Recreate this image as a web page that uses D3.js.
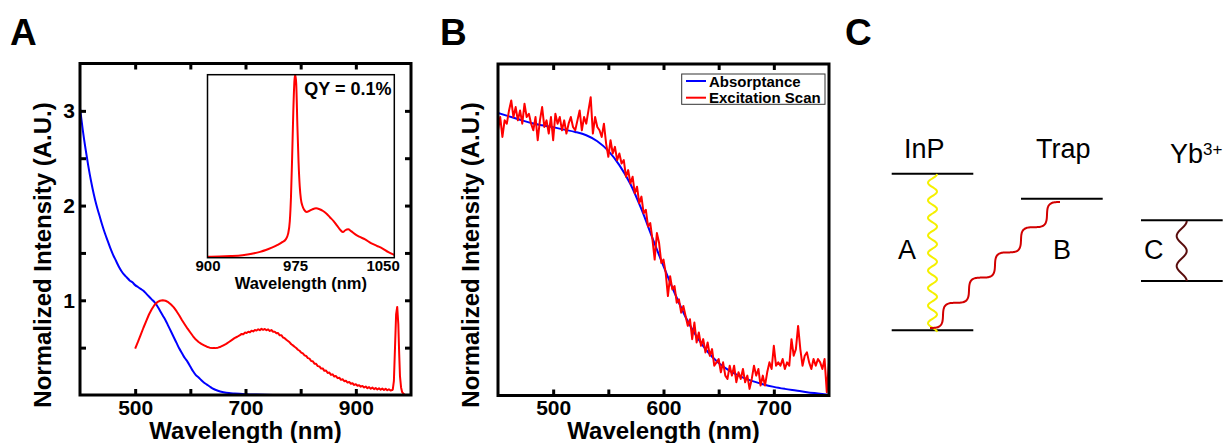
<!DOCTYPE html>
<html><head><meta charset="utf-8">
<script src="https://cdn.jsdelivr.net/npm/d3@7"></script>
<style>
html,body{margin:0;padding:0;background:#fff;}
svg text{font-family:"Liberation Sans",Arial,Helvetica,sans-serif;}
</style></head><body>
<svg id="fig" width="1226" height="443"></svg>
<script>
// ---------------- DATA ----------------
// Panel A: absorbance (blue)
const absA = [[400,3.03],[405,2.80],[410,2.60],[415,2.42],[420,2.26],[425,2.12],[430,2.00],[435,1.90],[440,1.80],[445,1.71],[450,1.63],[455,1.55],[460,1.48],[465,1.42],[470,1.36],[475,1.31],[480,1.27],[485,1.24],[490,1.21],[495,1.19],[500,1.16],[505,1.14],[510,1.12],[515,1.10],[520,1.07],[525,1.04],[530,1.01],[535,0.98],[540,0.94],[545,0.89],[550,0.84],[555,0.79],[560,0.73],[565,0.67],[570,0.61],[575,0.55],[580,0.49],[585,0.44],[590,0.39],[595,0.35],[600,0.30],[605,0.25],[610,0.21],[615,0.185],[620,0.155],[625,0.13],[630,0.11],[635,0.09],[640,0.07],[650,0.045],[660,0.03],[670,0.02],[680,0.015],[700,0.008],[720,0.004],[750,0.001],[800,0]];
// Panel A: photoluminescence (red)
const plA = [[500,.49],[505,.56],[510,.635],[515,.71],[520,.78],[525,.85],[530,.905],[535,.95],[540,.98],[545,.995],[550,1.0],[555,.995],[560,.98],[565,.955],[570,.925],[575,.885],[580,.84],[585,.79],[590,.745],[595,.70],[600,.66],[605,.62],[610,.585],[615,.56],[620,.54],[625,.525],[630,.51],[635,.50],[640,.495],[645,.495],[650,.50],[655,.51],[660,.525],[665,.54],[670,.56],[675,.58],[680,.60],[685,.615],
[690,.632],[693,.645],[696,.641],[699,.659],[702,.655],[705,.668],[708,.662],[711,.679],[714,.671],[717,.686],[720,.680],[723,.694],[726,.685],[729,.699],[732,.688],[735,.697],[738,.684],[741,.693],[744,.676],[747,.686],[750,.668],[753,.669],[756,.652],[759,.655],[762,.630],[765,.632],[768,.607],[771,.600],[774,.584],[777,.570],[780,.556],[783,.536],[786,.524],[789,.509],[792,.496],[795,.478],[798,.467],[801,.448],[804,.439],[807,.418],[810,.412],[813,.389],[816,.384],[819,.359],[822,.357],[825,.331],[828,.329],[831,.305],[834,.302],[837,.279],[840,.281],[843,.255],[846,.258],[849,.232],[852,.237],[855,.212],[858,.218],[861,.195],[864,.200],[867,.178],[870,.183],[873,.160],[876,.166],[879,.146],[882,.150],[885,.131],[888,.138],[891,.119],[894,.124],[897,.106],[900,.114],[903,.098],[906,.104],[909,.088],[912,.096],[915,.079],[918,.090],[921,.072],[924,.083],[927,.066],[930,.078],[933,.062],[936,.074],[939,.058],[942,.071],[945,.055],[948,.068],[951,.052],[954,.066],[957,.050],[960,.061],[963,.048],[966,.052],
[967,.06],[969,.15],[971,.50],[973,.85],[975,.93],[977,.75],[978.5,.45],[980,.20],[982,.08],[984,.03],[987,.01],[989,0]];
// Inset: NIR emission (normalized)
const insetNIR = [[900,.005],[910,.006],[920,.009],[930,.014],[940,.024],[945,.032],[950,.042],[955,.055],[960,.07],[964,.085],[967,.10],[969,.13],[970.5,.20],[971.5,.33],[972.5,.55],[973.5,.80],[974.5,.97],[975.2,1.0],[976,.95],[977,.72],[978,.52],[979,.39],[980,.32],[981.5,.28],[983,.26],[985,.25],[987,.255],[990,.265],[993,.27],[996,.265],[999,.255],[1002,.24],[1005,.22],[1008,.20],[1011,.175],[1014,.15],[1016,.14],[1018,.15],[1020.5,.155],[1023,.145],[1026,.13],[1030,.115],[1035,.10],[1040,.08],[1045,.065],[1050,.05],[1055,.03],[1060,.015]];
// Panel B: absorptance (blue) and excitation scan (red)
const absB = [[450,.852],[460,.842],[470,.832],[480,.822],[490,.815],[500,.809],[510,.802],[520,.795],[530,.785],[540,.767],[550,.738],[560,.695],[570,.638],[580,.562],[590,.475],[600,.39],[610,.31],[620,.237],[630,.178],[640,.132],[650,.098],[660,.074],[670,.057],[680,.044],[690,.034],[700,.026],[710,.02],[720,.015],[730,.01],[740,.006],[750,.002]];
const excB = [[450,.80],[452,.84],[454,.78],[456,.83],[458,.82],[460,.86],[462,.89],[464,.84],[466,.87],[468,.83],[470,.86],[472,.82],[474,.88],[476,.84],[478,.85],[480,.82],[482,.80],[484,.84],[486,.77],[488,.83],[490,.87],[492,.81],[494,.83],[496,.79],[498,.84],[500,.77],[502,.85],[504,.82],[506,.84],[508,.80],[510,.83],[512,.79],[514,.82],[516,.84],[518,.81],[520,.80],[522,.83],[524,.86],[526,.80],[528,.84],[530,.82],[532,.86],[534,.90],[536,.79],[538,.84],[540,.81],[542,.80],[544,.78],[546,.82],[548,.76],[550,.72],[552,.77],[554,.73],[556,.75],[558,.71],[560,.73],[562,.70],[564,.71],[566,.66],[568,.68],[570,.64],[572,.66],[574,.61],[576,.63],[578,.58],[580,.60],[582,.55],[584,.56],[586,.51],[588,.52],[590,.47],[592,.41],[594,.49],[596,.46],[598,.40],[600,.41],[602,.37],[604,.30],[606,.36],[608,.32],[610,.33],[612,.28],[614,.29],[616,.25],[618,.27],[620,.24],[622,.21],[624,.23],[626,.17],[628,.22],[630,.16],[632,.19],[634,.15],[636,.17],[638,.13],[640,.16],[642,.12],[644,.14],[646,.09],[648,.10],[650,.11],[652,.07],[654,.10],[656,.06],[658,.05],[660,.09],[662,.06],[664,.09],[666,.04],[668,.07],[670,.05],[672,.08],[674,.04],[676,.06],[678,.02],[680,.05],[682,.09],[684,.06],[686,.08],[688,.03],[690,.06],[692,.03],[694,.07],[696,.10],[698,.08],[700,.15],[702,.09],[704,.10],[706,.09],[708,.11],[710,.08],[712,.10],[714,.09],[716,.17],[718,.12],[720,.14],[722,.21],[724,.14],[726,.09],[728,.12],[730,.13],[732,.10],[734,.08],[736,.11],[738,.09],[740,.11],[742,.10],[744,.08],[746,.11],[748,.01],[750,.10]];
// Tick values / labels
const aXTicks = [500,600,700,800,900];
const aXLabels = [500,700,900];
const aYTicks = [0.5,1,1.5,2,2.5,3];
const aYLabels = [1,2,3];
const insetXLabels = [900,975,1050];
const bXTicks = [500,550,600,650,700];
const bXLabels = [500,600,700];
const legendItems = ["Absorptance","Excitation Scan"];
const levelLabels = ["InP","Trap","Yb"];

// ---------------- DRAW ----------------
const svg = d3.select('#fig');
const BLUE = '#0000ff', RED = '#ff0000';
const fontB = '"Liberation Sans",Arial,Helvetica,sans-serif';

function styleAxis(g, fs){
  g.select('.domain').remove();
  g.selectAll('.tick line').attr('stroke','#000').attr('stroke-width',3);
  g.selectAll('.tick text').attr('font-size',fs).attr('font-weight','bold').attr('fill','#000').attr('font-family',fontB);
}

// ===== Panel A =====
const xA = d3.scaleLinear().domain([400,1000]).range([80,411]);
const yA = d3.scaleLinear().domain([0,3.5]).range([395,63.5]);
const gA = svg.append('g');
gA.append('clipPath').attr('id','clipA').append('rect')
  .attr('x',xA.range()[0]).attr('y',yA.range()[1]).attr('width',xA.range()[1]-xA.range()[0]).attr('height',yA.range()[0]-yA.range()[1]);
const lineA = d3.line().x(d=>xA(d[0])).y(d=>yA(d[1]));
gA.append('path').datum(absA).attr('d',lineA.curve(d3.curveMonotoneX)).attr('fill','none').attr('stroke',BLUE).attr('stroke-width',2).attr('clip-path','url(#clipA)');
gA.append('path').datum(plA).attr('d',d3.line().x(d=>xA(d[0])).y(d=>yA(d[1]))).attr('fill','none').attr('stroke',RED).attr('stroke-width',2).attr('stroke-linejoin','round').attr('clip-path','url(#clipA)');

gA.append('g').attr('transform',`translate(0,${yA(0)})`)
  .call(d3.axisBottom(xA).tickValues(aXTicks).tickSizeInner(-6).tickSizeOuter(0).tickPadding(5).tickFormat(d=>aXLabels.includes(d)?d:''))
  .call(g=>styleAxis(g,21));
gA.append('g').attr('transform',`translate(0,${yA(3.5)})`)
  .call(d3.axisTop(xA).tickValues(aXTicks).tickSizeInner(-6).tickSizeOuter(0).tickFormat(''))
  .call(g=>styleAxis(g,21));
gA.append('g').attr('transform',`translate(${xA(400)},0)`)
  .call(d3.axisLeft(yA).tickValues(aYTicks).tickSizeInner(-6).tickSizeOuter(0).tickPadding(5).tickFormat(d=>aYLabels.includes(d)?d:''))
  .call(g=>styleAxis(g,21));
gA.append('g').attr('transform',`translate(${xA(1000)},0)`)
  .call(d3.axisRight(yA).tickValues(aYTicks).tickSizeInner(-6).tickSizeOuter(0).tickFormat(''))
  .call(g=>styleAxis(g,21));
gA.append('rect').attr('x',xA(400)).attr('y',yA(3.5)).attr('width',xA(1000)-xA(400)).attr('height',yA(0)-yA(3.5))
  .attr('fill','none').attr('stroke','#000').attr('stroke-width',3);

// Inset
const xI = d3.scaleLinear().domain([900,1060]).range([207.5,394.3]);
const yI = d3.scaleLinear().domain([0,1]).range([257.7,74.7]);
gA.append('rect').attr('x',xI(900)).attr('y',yI(1)).attr('width',xI(1060)-xI(900)).attr('height',yI(0)-yI(1)).attr('fill','#fff');
gA.append('clipPath').attr('id','clipI').append('rect').attr('x',xI(900)).attr('y',yI(1)).attr('width',xI(1060)-xI(900)).attr('height',yI(0)-yI(1));
gA.append('path').datum(insetNIR).attr('d',d3.line().x(d=>xI(d[0])).y(d=>yI(d[1])).curve(d3.curveMonotoneX))
  .attr('fill','none').attr('stroke',RED).attr('stroke-width',2).attr('clip-path','url(#clipI)');
gA.append('rect').attr('x',xI(900)).attr('y',yI(1)).attr('width',xI(1060)-xI(900)).attr('height',yI(0)-yI(1))
  .attr('fill','none').attr('stroke','#000').attr('stroke-width',1.5);
gA.append('g').attr('transform',`translate(0,${yI(0)})`)
  .call(d3.axisBottom(xI).tickValues(insetXLabels).tickSizeInner(0).tickSizeOuter(0).tickPadding(3).tickFormat(d=>d))
  .call(g=>styleAxis(g,15));
gA.append('text').attr('x',(xI(900)+xI(1060))/2).attr('y',289).attr('text-anchor','middle')
  .attr('font-size',16.5).attr('font-weight','bold').text('Wavelength (nm)');
gA.append('text').attr('x',391.5).attr('y',95).attr('text-anchor','end')
  .attr('font-size',18).attr('font-weight','bold').text('QY = 0.1%');

// Labels A
gA.append('text').attr('transform','translate(50.5,255) rotate(-90)').attr('text-anchor','middle')
  .attr('font-size',24).attr('font-weight','bold').text('Normalized Intensity (A.U.)');
gA.append('text').attr('x',(xA(400)+xA(1000))/2).attr('y',439).attr('text-anchor','middle')
  .attr('font-size',24).attr('font-weight','bold').text('Wavelength (nm)');
svg.append('text').attr('x',10).attr('y',45).attr('font-size',37).attr('font-weight','bold').text('A');

// ===== Panel B =====
const xB = d3.scaleLinear().domain([450,750]).range([498,829]);
const yB = d3.scaleLinear().domain([0,1]).range([395.5,64]);
const gB = svg.append('g');
gB.append('clipPath').attr('id','clipB').append('rect')
  .attr('x',xB(450)).attr('y',yB(1)).attr('width',xB(750)-xB(450)).attr('height',yB(0)-yB(1));
gB.append('path').datum(absB).attr('d',d3.line().x(d=>xB(d[0])).y(d=>yB(d[1])).curve(d3.curveMonotoneX))
  .attr('fill','none').attr('stroke',BLUE).attr('stroke-width',2).attr('clip-path','url(#clipB)');
gB.append('path').datum(excB).attr('d',d3.line().x(d=>xB(d[0])).y(d=>yB(d[1])))
  .attr('fill','none').attr('stroke',RED).attr('stroke-width',2).attr('stroke-linejoin','round').attr('clip-path','url(#clipB)');
gB.append('g').attr('transform',`translate(0,${yB(0)})`)
  .call(d3.axisBottom(xB).tickValues(bXTicks).tickSizeInner(-6).tickSizeOuter(0).tickPadding(5).tickFormat(d=>bXLabels.includes(d)?d:''))
  .call(g=>styleAxis(g,21));
gB.append('g').attr('transform',`translate(0,${yB(1)})`)
  .call(d3.axisTop(xB).tickValues(bXTicks).tickSizeInner(-6).tickSizeOuter(0).tickFormat(''))
  .call(g=>styleAxis(g,21));
gB.append('rect').attr('x',xB(450)).attr('y',yB(1)).attr('width',xB(750)-xB(450)).attr('height',yB(0)-yB(1))
  .attr('fill','none').attr('stroke','#000').attr('stroke-width',3);
// legend
const lg = gB.append('g');
lg.append('rect').attr('x',681.7).attr('y',74).attr('width',143.3).attr('height',30.3).attr('fill','#fff').attr('stroke','#333').attr('stroke-width',1);
[BLUE,RED].forEach((c,i)=>{
  const yy = 81 + i*16.7;
  lg.append('line').attr('x1',686).attr('x2',706).attr('y1',yy).attr('y2',yy).attr('stroke',c).attr('stroke-width',2);
  lg.append('text').attr('x',709).attr('y',yy+5.5).attr('font-size',15).attr('font-weight','bold').text(legendItems[i]);
});
gB.append('text').attr('transform','translate(479,255) rotate(-90)').attr('text-anchor','middle')
  .attr('font-size',24).attr('font-weight','bold').text('Normalized Intensity (A.U.)');
gB.append('text').attr('x',(xB(450)+xB(750))/2).attr('y',439).attr('text-anchor','middle')
  .attr('font-size',24).attr('font-weight','bold').text('Wavelength (nm)');
svg.append('text').attr('x',440).attr('y',45).attr('font-size',37).attr('font-weight','bold').text('B');

// ===== Panel C (energy diagram) =====
const gC = svg.append('g');
svg.append('text').attr('x',845).attr('y',45).attr('font-size',37).attr('font-weight','bold').text('C');
function wave(x0,y0,x1,y1,n,a,useCos){
  const L = Math.hypot(x1-x0,y1-y0), ux=(x1-x0)/L, uy=(y1-y0)/L, nx=-uy, ny=ux;
  const pts = d3.range(0,301).map(i=>{const t=i/300; const o=a*(useCos?Math.cos(2*Math.PI*n*t):Math.sin(2*Math.PI*n*t));
    return [x0+ux*L*t+nx*o, y0+uy*L*t+ny*o];});
  return d3.line().curve(d3.curveBasis)(pts);
}
const lvl = (x1,x2,y)=>gC.append('line').attr('x1',x1).attr('x2',x2).attr('y1',y).attr('y2',y).attr('stroke','#000').attr('stroke-width',2);
lvl(891.7,973.3,173.7); lvl(891.7,973.3,330.3); lvl(1021,1102.7,198.7); lvl(1141,1222.7,220.3); lvl(1141,1222.7,281);
gC.append('path').attr('d',wave(932.5,174,932.5,332,9,-4.5,true)).attr('fill','none').attr('stroke','#f5f000').attr('stroke-width',2);
gC.append('path').attr('d',wave(930,328,1060,202,5,5.5,false)).attr('fill','none').attr('stroke','#d20000').attr('stroke-width',2);
gC.append('path').attr('d',wave(1181.7,221,1181.7,281,2,-5,true)).attr('fill','none').attr('stroke','#5a0d0d').attr('stroke-width',2);
const tC = (x,y,s)=>gC.append('text').attr('x',x).attr('y',y).attr('font-size',27).attr('fill','#000').text(s);
tC(904,158.3,levelLabels[0]); tC(1036,158,levelLabels[1]);
const yb = tC(1170,163.3,levelLabels[2]);
yb.append('tspan').attr('font-size',17).attr('dy',-8).text('3+');
tC(898,259.3,'A'); tC(1053,259.3,'B'); tC(1144,259.3,'C');
</script>
</body></html>
